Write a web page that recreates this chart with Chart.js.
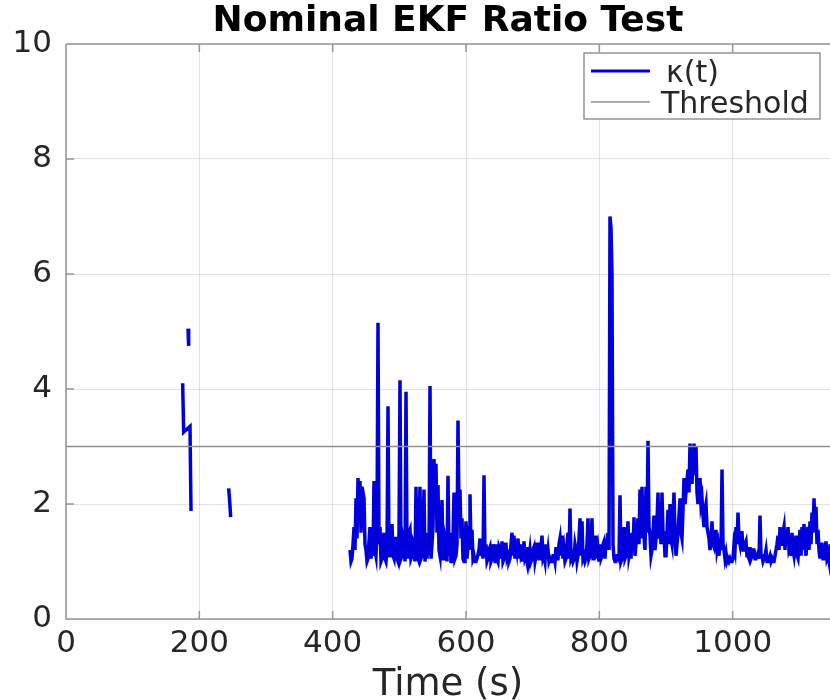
<!DOCTYPE html>
<html>
<head>
<meta charset="utf-8">
<script src="https://cdn.jsdelivr.net/npm/chart.js@4"></script>
<style>
  html, body { margin: 0; padding: 0; background: #fff; }
  #chart { display: block; }
</style>
</head>
<body>
<canvas id="chart" width="830" height="700"></canvas>
<script>
/* =============================== */
/* Data      */
/* =============================== */
// short early bursts: time (s) / kappa
const burstATimes = [175, 176.5, 186, 187.5];
const burstAValues = [4.1, 3.25, 3.35, 1.88];
const burstBTimes = [183, 184];
const burstBValues = [5.05, 4.75];
const burstCTimes = [244, 245.5, 247];
const burstCValues = [2.27, 2.05, 1.77];

// continuous part, sampled every 1.5 s from t = 426 s (one row = 30 s)
const mainStart = 426;
const mainStep = 1.5;
const mainValues = [
  1.2, 1.0, 1.05, 1.3, 1.6, 1.2, 2.1, 1.4, 2.45, 2.0, 2.4, 1.5, 2.3, 2.2, 2.1, 1.3, 1.2, 1.0, 1.05, 1.35,
  1.6, 1.05, 1.3, 1.1, 2.4, 1.2, 1.1, 1.6, 5.15, 1.3, 1.6, 1.0, 1.05, 1.3, 1.5, 1.05, 1.0, 1.2, 3.7, 1.1,
  1.1, 1.3, 1.65, 1.1, 1.05, 1.4, 1.4, 1.05, 1.0, 1.5, 4.15, 1.05, 1.1, 1.4, 1.3, 1.0, 3.95, 1.2, 1.05, 1.5,
  1.55, 1.05, 1.1, 1.35, 1.3, 1.0, 2.3, 1.1, 1.05, 1.6, 2.3, 1.05, 1.1, 1.4, 2.25, 1.0, 1.2, 1.05, 1.5, 1.1,
  4.05, 1.05, 1.3, 1.6, 2.78, 2.2, 2.7, 1.5, 2.33, 1.2, 1.1, 1.6, 2.07, 1.05, 1.05, 1.4, 1.3, 1.0, 2.49, 1.1,
  1.5, 1.0, 1.05, 1.4, 2.2, 1.05, 1.1, 1.3, 3.45, 1.9, 2.25, 1.4, 1.75, 1.05, 1.0, 1.2, 1.7, 1.05, 1.3, 1.6,
  2.17, 1.2, 1.55, 1.05, 1.1, 1.0, 1.0, 1.05, 1.05, 1.2, 1.4, 1.1, 1.3, 1.05, 2.5, 1.1, 1.3, 1.0, 1.05, 1.2,
  1.25, 1.0, 1.05, 1.3, 1.1, 1.0, 1.3, 1.05, 1.0, 1.25, 1.2, 1.05, 1.35, 1.0, 1.05, 1.3, 1.3, 1.05, 1.1, 1.0,
  1.05, 1.3, 1.5, 1.1, 1.45, 1.05, 1.35, 1.2, 1.4, 1.05, 1.3, 1.1, 1.15, 1.0, 1.35, 1.05, 1.1, 1.0, 1.25, 1.05,
  1.2, 1.0, 1.05, 1.2, 1.25, 1.0, 1.1, 1.3, 1.3, 1.05, 1.05, 1.25, 1.45, 1.05, 1.1, 1.0, 1.3, 1.05, 1.2, 1.0,
  1.05, 1.0, 1.0, 1.1, 1.1, 1.0, 1.25, 1.05, 1.05, 1.3, 1.4, 1.1, 1.45, 1.05, 1.2, 1.0, 1.05, 1.3, 1.5, 1.05,
  1.92, 1.05, 1.1, 1.0, 1.05, 1.3, 1.2, 1.0, 1.1, 1.4, 1.75, 1.1, 1.7, 1.05, 1.1, 1.0, 1.05, 1.3, 1.75, 1.05,
  1.1, 1.3, 1.75, 1.05, 1.05, 1.3, 1.45, 1.05, 1.2, 1.0, 1.3, 1.05, 1.1, 1.3, 1.35, 1.05, 1.4, 1.2, 1.5, 1.2,
  7.0, 6.8, 6.0, 1.3, 1.05, 1.0, 1.0, 1.1, 1.1, 1.05, 2.15, 1.0, 1.05, 1.3, 1.6, 1.05, 1.1, 1.4, 1.7, 1.1,
  1.2, 1.05, 1.5, 1.2, 1.77, 1.1, 1.3, 1.5, 1.75, 1.3, 2.25, 1.4, 2.3, 1.6, 1.45, 1.2, 2.3, 1.5, 3.1, 1.6,
  1.45, 1.1, 1.2, 1.5, 1.8, 1.2, 1.4, 1.7, 2.2, 1.4, 1.6, 1.3, 2.2, 1.5, 1.5, 1.1, 1.1, 1.5, 1.9, 1.3,
  2.0, 1.4, 1.3, 1.8, 2.2, 1.5, 1.1, 1.3, 1.5, 1.8, 2.1, 1.5, 1.4, 1.9, 2.45, 2.0, 2.2, 2.4, 2.6, 2.2,
  3.05, 2.6, 2.35, 2.8, 3.05, 2.5, 3.0, 2.2, 2.0, 2.3, 2.45, 2.0, 2.1, 1.8, 1.6, 1.9, 2.0, 1.6, 1.5, 1.4,
  1.2, 1.4, 1.7, 1.3, 1.25, 1.4, 1.55, 1.2, 1.3, 1.1, 1.4, 1.2, 2.6, 1.3, 1.2, 1.05, 1.15, 1.0, 1.05, 1.0,
  1.05, 1.0, 1.0, 1.05, 1.3, 1.2, 1.6, 1.3, 1.85, 1.4, 1.3, 1.5, 1.5, 1.2, 1.2, 1.3, 1.35, 1.1, 1.1, 1.05,
  1.25, 1.05, 1.1, 1.2, 1.2, 1.05, 1.05, 1.1, 1.15, 1.05, 1.8, 1.1, 1.1, 1.0, 1.05, 1.1, 1.2, 1.0, 1.0, 1.05,
  1.1, 1.0, 1.05, 1.0, 1.0, 1.1, 1.2, 1.3, 1.45, 1.2, 1.6, 1.3, 1.3, 1.5, 1.6, 1.2, 1.55, 1.3, 1.6, 1.2,
  1.25, 1.1, 1.5, 1.2, 1.1, 1.3, 1.45, 1.1, 1.05, 1.3, 1.55, 1.1, 1.6, 1.2, 1.65, 1.3, 1.1, 1.4, 1.6, 1.2,
  1.7, 1.3, 1.85, 1.5, 2.1, 1.6, 1.95, 1.3, 1.55, 1.2, 1.05, 1.3, 1.3, 1.05, 1.05, 1.2, 1.35, 1.05, 1.1, 1.0, 1.3
];

const thresholdTimes = [0, 1146];
const thresholdValues = [3, 3];

const xTickStep = 200;
const yTicks = [0, 2, 4, 6, 8, 10];

/* =============================== */
/* Build line data with gaps       */
/* =============================== */
const kappaData = [];
function addSegment(ts, vs) {
    if (kappaData.length) kappaData.push({ x: ts[0], y: null });
    ts.forEach(function (t, i) { kappaData.push({ x: t, y: vs[i] }); });
}
addSegment(burstATimes, burstAValues);
addSegment(burstBTimes, burstBValues);
addSegment(burstCTimes, burstCValues);
addSegment(mainValues.map(function (v, i) { return mainStart + i * mainStep; }), mainValues);

const thresholdData = thresholdTimes.map(function (t, i) { return { x: t, y: thresholdValues[i] }; });

const FONT = "'DejaVu Sans', 'Liberation Sans', Arial, sans-serif";
const TEXT = '#262626';

/* =============================== */
/* Box, inner ticks and legend     */
/* =============================== */
const matlabAxes = {
    id: 'matlabAxes',
    afterDraw(chart) {
        const ctx = chart.ctx;
        const a = chart.chartArea;
        const x = chart.scales.x, y = chart.scales.y;
        ctx.save();
        ctx.strokeStyle = '#969696';
        ctx.lineWidth = 1.5;
        ctx.beginPath();
        ctx.moveTo(a.left, a.top); ctx.lineTo(a.right + 2, a.top);
        ctx.moveTo(a.left, a.top); ctx.lineTo(a.left, a.bottom); ctx.lineTo(a.right + 2, a.bottom);
        x.ticks.forEach(function (t) {
            const px = x.getPixelForValue(t.value);
            ctx.moveTo(px, a.bottom); ctx.lineTo(px, a.bottom - 8);
            ctx.moveTo(px, a.top); ctx.lineTo(px, a.top + 8);
        });
        y.ticks.forEach(function (t) {
            const py = y.getPixelForValue(t.value);
            ctx.moveTo(a.left, py); ctx.lineTo(a.left + 8, py);
        });
        ctx.stroke();

        // legend box (top right, inside axes)
        const bx = 584, by = 53, bw = 236, bh = 66;
        ctx.fillStyle = '#fff';
        ctx.fillRect(bx, by, bw, bh);
        ctx.strokeStyle = '#7a7a7a';
        ctx.lineWidth = 1.2;
        ctx.strokeRect(bx, by, bw, bh);
        const rows = [71, 102];
        ctx.font = '30px ' + FONT;
        ctx.textBaseline = 'middle';
        ctx.fillStyle = TEXT;
        chart.data.datasets.forEach(function (ds, i) {
            ctx.strokeStyle = ds.borderColor;
            ctx.lineWidth = ds.legendWidth;
            ctx.beginPath();
            ctx.moveTo(bx + 7, rows[i]); ctx.lineTo(bx + 66, rows[i]);
            ctx.stroke();
            ctx.fillText(ds.label, bx + 77 + (i === 0 ? 5 : 0), rows[i] + 3);
        });
        ctx.restore();
    }
};

new Chart(document.getElementById('chart'), {
    type: 'line',
    data: {
        datasets: [{
            label: 'κ(t)',
            data: kappaData,
            borderColor: '#0000dd',
            borderWidth: 3.5,
            legendWidth: 3,
            pointRadius: 0,
            tension: 0,
            spanGaps: false,
            order: 1
        }, {
            label: 'Threshold',
            data: thresholdData,
            borderColor: '#8f8f8f',
            borderWidth: 1.3,
            legendWidth: 1.3,
            pointRadius: 0,
            order: 0
        }]
    },
    options: {
        responsive: false,
        animation: false,
        devicePixelRatio: 1,
        layout: { padding: 0 },
        plugins: {
            legend: { display: false },
            tooltip: { enabled: false },
            title: {
                display: true,
                text: 'Nominal EKF Ratio Test',
                fullSize: false,
                color: '#000',
                font: { family: FONT, size: 36, weight: 'bold', lineHeight: 44 / 36 },
                padding: 0
            }
        },
        scales: {
            x: {
                type: 'linear',
                min: 0,
                max: thresholdTimes[1],
                afterFit(scale) { scale.height = 81; },
                border: { display: false },
                grid: { color: 'rgba(0,0,0,0.11)', lineWidth: 1, drawTicks: false },
                ticks: {
                    stepSize: xTickStep,
                    includeBounds: false,
                    maxRotation: 0,
                    padding: 6,
                    color: TEXT,
                    font: { family: FONT, size: 31 },
                    callback: function (v) { return String(v); }
                },
                title: {
                    display: true,
                    text: 'Time (s)',
                    color: TEXT,
                    font: { family: FONT, size: 37, lineHeight: 1 },
                    padding: { top: 0, bottom: -4 }
                }
            },
            y: {
                min: yTicks[0],
                max: yTicks[yTicks.length - 1],
                afterFit(scale) { scale.width = 66; },
                border: { display: false },
                grid: { color: 'rgba(0,0,0,0.11)', lineWidth: 1, drawTicks: false },
                ticks: {
                    stepSize: 2,
                    padding: 14,
                    color: TEXT,
                    font: { family: FONT, size: 31 }
                }
            }
        }
    },
    plugins: [matlabAxes]
});
</script>
</body>
</html>
